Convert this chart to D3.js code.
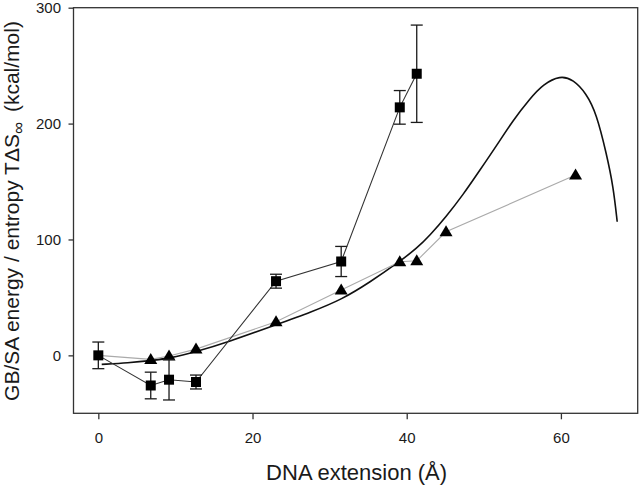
<!DOCTYPE html>
<html><head><meta charset="utf-8">
<script src="https://cdn.jsdelivr.net/npm/d3@7"></script>
<style>body{margin:0;background:#fff}svg{display:block}text{font-family:"Liberation Sans",Arial,sans-serif}</style>
</head><body><svg id="c" width="640" height="486"></svg>
<script>
// Squares (GB/SA energy) with error bars
const sqX   = [0, 6.8, 9.17, 12.67, 23.05, 31.5, 39.1, 41.3];
const sqY   = [0, -26, -21, -23, 64, 81, 214, 243];
const sqErr = [11.5, 11.5, 17.5, 6, 6, 13, 14.5, 42];
// Triangles (entropy)
const triX  = [0, 6.8, 9.17, 12.67, 23.05, 31.5, 39.1, 41.3, 45.1, 61.9];
const triY  = [0, -3.5, -0.6, 5.4, 29, 56.5, 80.8, 81.6, 106.6, 155.6];
// Smooth curve
const curveX = [0.44, 3.9, 6.84, 9.17, 12.67, 16.9, 22.9, 27.7, 31.6, 35.2, 39.05, 41.3, 43.0, 45.1, 47.3, 49.5, 51.7, 53.8, 56.0, 57.7, 59.9, 61.6, 63.3, 64.6, 65.9, 66.8, 67.3];
const curveY = [-7.8, -6.4, -4.6, -2.6, 3.1, 11.7, 26.1, 37.6, 48.3, 63, 80.8, 92.3, 103.5, 119.6, 138.5, 159.9, 181.4, 203, 221.7, 234, 241.5, 238, 226, 208.8, 174.3, 145.5, 115.3];
const xTicks = [0, 20, 40, 60];
const yTicks = [0, 100, 200, 300];

const svg = d3.select("#c");
const L = 73.5, R = 637.7, T = 7.7, B = 413.3;
const x = d3.scaleLinear().domain([-3.22, 69.96]).range([L, R]);
const y = d3.scaleLinear().domain([-50, 300]).range([B, T]);
const ink = "#1a1a1a";

// frame
svg.append("rect").attr("x", L).attr("y", T).attr("width", R - L).attr("height", B - T)
  .attr("fill", "none").attr("stroke", "#333").attr("stroke-width", 1.3);

// axes
const xa = svg.append("g").attr("transform", `translate(0,${B})`)
  .call(d3.axisBottom(x).tickValues(xTicks).tickSize(6).tickPadding(13).tickFormat(d3.format("d")));
const ya = svg.append("g").attr("transform", `translate(${L},0)`)
  .call(d3.axisLeft(y).tickValues(yTicks).tickSize(5).tickPadding(7.5).tickFormat(d3.format("d")));
[xa, ya].forEach(a => {
  a.select(".domain").remove();
  a.selectAll("line").attr("stroke", "#333").attr("stroke-width", 1.3);
  a.selectAll("text").attr("font-size", 15).attr("fill", ink)
    .attr("font-family", '"Liberation Sans",Arial,sans-serif');
});

// curve
const curveData = curveX.map((d, i) => [d, curveY[i]]);
svg.append("path").datum(curveData)
  .attr("d", d3.line().x(d => x(d[0])).y(d => y(d[1])).curve(d3.curveBasis))
  .attr("fill", "none").attr("stroke", "#111").attr("stroke-width", 1.6);

// triangle line
const triData = triX.map((d, i) => [d, triY[i]]);
svg.append("path").datum(triData)
  .attr("d", d3.line().x(d => x(d[0])).y(d => y(d[1])))
  .attr("fill", "none").attr("stroke", "#aaa").attr("stroke-width", 1.1);

// square line
const sqData = sqX.map((d, i) => [d, sqY[i], sqErr[i]]);
svg.append("path").datum(sqData)
  .attr("d", d3.line().x(d => x(d[0])).y(d => y(d[1])))
  .attr("fill", "none").attr("stroke", "#333").attr("stroke-width", 1.1);

// triangles (first point lies under the square at the origin)
svg.selectAll(".tri").data(triData.slice(1)).enter().append("path")
  .attr("transform", d => `translate(${x(d[0])},${y(d[1])})`)
  .attr("d", "M0,-6.5L6.5,4.5L-6.5,4.5Z").attr("fill", "#000");

// error bars
const eb = svg.selectAll(".eb").data(sqData).enter().append("g").attr("stroke", ink).attr("stroke-width", 1.3);
eb.append("line").attr("x1", d => x(d[0])).attr("x2", d => x(d[0]))
  .attr("y1", d => y(d[1] - d[2])).attr("y2", d => y(d[1] + d[2]));
eb.append("line").attr("x1", d => x(d[0]) - 6).attr("x2", d => x(d[0]) + 6)
  .attr("y1", d => y(d[1] - d[2])).attr("y2", d => y(d[1] - d[2]));
eb.append("line").attr("x1", d => x(d[0]) - 6).attr("x2", d => x(d[0]) + 6)
  .attr("y1", d => y(d[1] + d[2])).attr("y2", d => y(d[1] + d[2]));

// squares
svg.selectAll(".sq").data(sqData).enter().append("rect")
  .attr("x", d => x(d[0]) - 5).attr("y", d => y(d[1]) - 5)
  .attr("width", 10).attr("height", 10).attr("fill", "#000");

// labels
svg.append("text").attr("x", (L + R) / 2 + 1).attr("y", 480).attr("text-anchor", "middle")
  .attr("font-size", 22).attr("fill", ink).text("DNA extension (Å)");
const yl = svg.append("text").attr("transform", "translate(19,211) rotate(-90)")
  .attr("text-anchor", "middle").attr("font-size", 21).attr("fill", ink);
yl.append("tspan").text("GB/SA energy / entropy TΔS");
yl.append("tspan").attr("font-size", 17).attr("dy", 5).text("∞");
yl.append("tspan").attr("dy", -5).attr("dx", 4).text(" (kcal/mol)");
</script></body></html>
